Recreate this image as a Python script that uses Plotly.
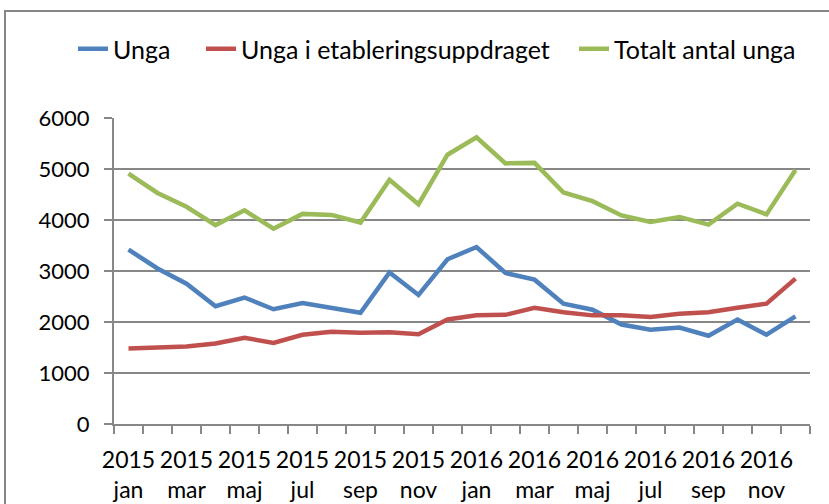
import plotly.graph_objects as go

years = ["2015"] * 12 + ["2016"] * 12
months = ["jan", "feb", "mar", "apr", "maj", "jun", "jul", "aug", "sep", "okt", "nov", "dec"] * 2

unga = [3420, 3050, 2750, 2310, 2480, 2250, 2370, 2280, 2180, 2970, 2530, 3230,
        3470, 2960, 2830, 2360, 2240, 1950, 1850, 1890, 1730, 2050, 1750, 2110]
unga_etabl = [1480, 1490, 1520, 1580, 1690, 1590, 1750, 1810, 1790, 1800, 1760, 2050,
              2130, 2140, 2280, 2190, 2130, 2130, 2100, 2160, 2190, 2280, 2360, 2850]
totalt = [4910, 4530, 4260, 3900, 4190, 3830, 4120, 4100, 3950, 4790, 4310, 5280,
          5620, 5110, 5120, 4540, 4370, 4090, 3960, 4060, 3910, 4320, 4110, 4980]

series = [
    ("Unga", unga, "#4F81BD"),
    ("Unga i etableringsuppdraget", unga_etabl, "#C0504D"),
    ("Totalt antal unga", totalt, "#9BBB59"),
]
legend_x_px = [73, 201, 574]   # left edge of each legend entry (px)

x = list(range(len(months)))
FONT = "Lato, 'Liberation Sans', sans-serif"
GRID = "#878787"
W, H = 829, 504

fig = go.Figure()
for i, (name, vals, col) in enumerate(series):
    lg = "legend" if i == 0 else f"legend{i + 1}"
    fig.add_trace(go.Scatter(x=x, y=vals, name=name, mode="lines", legend=lg,
                             line=dict(color=col, width=4.5)))

label_idx = x[::2]
label_txt = [f"{years[i]}<br>{months[i]}" for i in label_idx]

legends = {}
for i, px in enumerate(legend_x_px):
    key = "legend" if i == 0 else f"legend{i + 1}"
    legends[key] = dict(orientation="h", xref="container", x=px / W, xanchor="left",
                        yref="container", y=1 - 49 / H, yanchor="middle",
                        font=dict(size=25), bgcolor="rgba(0,0,0,0)", borderwidth=0)

fig.update_layout(
    width=W, height=H,
    margin=dict(l=114, r=19, t=118, b=80, autoexpand=False),
    paper_bgcolor="white", plot_bgcolor="white",
    font=dict(family=FONT, size=23, color="black"),
    showlegend=True,
    xaxis=dict(range=[-0.5, len(x) - 0.5], tickvals=[i - 0.5 for i in range(len(x) + 1)],
               showticklabels=False, ticks="outside", ticklen=8, tickwidth=2, tickcolor=GRID,
               showgrid=False, showline=True, linecolor=GRID, linewidth=2, zeroline=False,
               automargin=False),
    xaxis2=dict(overlaying="x", anchor="y", side="bottom", range=[-0.5, len(x) - 0.5],
                tickvals=label_idx, ticktext=label_txt, ticks="", showgrid=False,
                showline=False, zeroline=False, tickfont=dict(size=23), ticklabelstandoff=20,
                automargin=False),
    yaxis=dict(range=[0, 6000], dtick=1000, ticks="outside", ticklen=8, tickwidth=2,
               tickcolor=GRID, showgrid=True, gridcolor=GRID, gridwidth=2,
               showline=True, linecolor=GRID, linewidth=2, zeroline=False,
               tickfont=dict(size=22), ticklabelstandoff=10, automargin=False),
    shapes=[dict(type="rect", xref="paper", yref="paper",
                 x0=(5 - 114) / 696, x1=1.2, y0=-0.6, y1=(424 - 11) / 306,
                 line=dict(color="#868686", width=2), layer="below")],
    **legends,
)
fig.add_trace(go.Scatter(x=[0], y=[None], xaxis="x2", showlegend=False, hoverinfo="skip"))

fig.write_html("out.html", config={"displayModeBar": False},
               post_script="document.body.style.margin='0';window.dispatchEvent(new Event('resize'));")
